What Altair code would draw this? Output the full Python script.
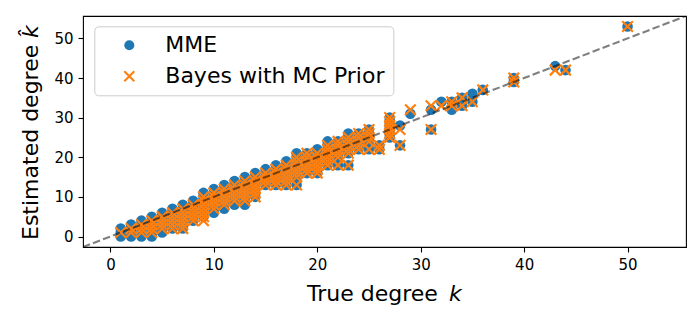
import altair as alt
import pandas as pd

# ---- data ----
true_k = [1, 2, 3, 4, 5, 6, 7, 8, 9, 10, 11, 12, 13, 14, 15, 16, 17, 18, 19, 20,
          21, 22, 23, 24, 25, 26, 27, 28, 29, 31, 32, 33, 34, 35, 36, 39, 43, 44, 50]

mme_est = [
    [0, 1, 2], [0, 1, 2, 3], [0, 1, 2, 3, 4], [0, 1, 2, 3, 4, 5],
    [1, 2, 3, 4, 5, 6], [2, 3, 4, 5, 6, 7], [2, 3, 4, 5, 6, 7, 8],
    [4, 5, 6, 7, 8, 9], [5, 6, 7, 8, 9, 10, 11], [6, 7, 8, 9, 10, 11, 12],
    [7, 8, 9, 10, 11, 12, 13], [8, 9, 10, 11, 12, 13, 14],
    [8, 9, 10, 11, 12, 13, 14, 15], [10, 11, 12, 13, 14, 15, 16],
    [13, 14, 15, 16, 17], [13, 14, 15, 16, 17, 18], [13, 14, 15, 16, 17, 18, 19],
    [13, 15, 16, 17, 18, 19, 20, 21], [16, 17, 18, 19, 20, 21],
    [16, 17, 18, 19, 20, 21, 22], [18, 19, 20, 21, 22, 23, 24],
    [18, 20, 21, 22, 23, 24], [18, 21, 22, 23, 24, 25, 26],
    [22, 23, 24, 25, 26], [22, 23, 24, 25, 26, 27], [22, 23],
    [25, 26, 27, 28, 29, 30], [23, 28], [31], [27, 32], [34], [32, 34],
    [33, 35], [34, 36], [37], [39, 40], [43], [42], [53],
]

bayes_est = [
    [1], [1, 2], [1, 2, 3], [1, 2, 3, 4],
    [2, 3, 4, 5], [2, 3, 4, 5, 6], [2, 3, 4, 5, 6, 7],
    [4, 5, 6, 7, 8], [4, 5, 6, 7, 8, 9, 10], [7, 8, 9, 10, 11],
    [8, 9, 10, 11, 12], [9, 10, 11, 12, 13],
    [9, 10, 11, 12, 13, 14], [10, 11, 12, 13, 14, 15],
    [13, 14, 15, 16], [13, 14, 15, 16, 17], [13, 14, 15, 16, 17, 18],
    [13, 15, 16, 17, 18, 19, 20], [16, 17, 18, 19, 20, 21],
    [16, 17, 18, 19, 20, 21], [18, 19, 20, 21, 22, 23],
    [18, 20, 21, 22, 23, 24], [18, 21, 22, 23, 24, 25],
    [22, 23, 24, 25, 26], [22, 24, 25, 26, 27], [22, 23],
    [25, 26, 27, 28, 29, 30], [23, 27], [32], [27, 33], [33], [33, 34],
    [33, 35], [34], [37], [39, 40], [42], [42], [53],
]

series_names = ["MME", "Bayes with MC Prior"]
series_colors = ["#1f77b4", "#ff7f0e"]
axis_limits = [-2.65, 55.65]
tick_values = [0, 10, 20, 30, 40, 50]

# ---- build table ----
rows = []
for k, ys in zip(true_k, mme_est):
    for y in ys:
        rows.append({"k": k, "est": y, "series": series_names[0]})
for k, ys in zip(true_k, bayes_est):
    for y in ys:
        rows.append({"k": k, "est": y, "series": series_names[1]})
df = pd.DataFrame(rows)
diag = pd.DataFrame({"k": axis_limits, "est": axis_limits})

FONT = "DejaVu Sans"
W, H = 603, 231
x_shape = "M-1,-1L1,1M-1,1L1,-1"

xscale = alt.Scale(domain=axis_limits, nice=False, zero=False)
yscale = alt.Scale(domain=axis_limits, nice=False, zero=False)
xaxis = alt.Axis(values=tick_values, title=None, format="d")
yaxis = alt.Axis(values=tick_values, title=None, format="d")

leg = alt.Legend(title=None)

points = alt.Chart(df).mark_point(size=112, strokeWidth=2.2, opacity=1).encode(
    x=alt.X("k:Q", scale=xscale, axis=xaxis),
    y=alt.Y("est:Q", scale=yscale, axis=yaxis),
    shape=alt.Shape("series:N", scale=alt.Scale(domain=series_names, range=["circle", x_shape]), legend=leg),
    fill=alt.Fill("series:N", scale=alt.Scale(domain=series_names, range=[series_colors[0], "transparent"]), legend=leg),
    stroke=alt.Stroke("series:N", scale=alt.Scale(domain=series_names, range=["transparent", series_colors[1]]), legend=leg),
)

line = alt.Chart(diag).mark_line(
    color="black", opacity=0.5, strokeDash=[7.5, 3.2], strokeWidth=2.1, clip=True
).encode(
    x=alt.X("k:Q", scale=xscale, axis=xaxis),
    y=alt.Y("est:Q", scale=yscale, axis=yaxis),
)

one = pd.DataFrame({"a": [0]})
xt1 = alt.Chart(one).mark_text(font=FONT, fontSize=22, align="left", baseline="alphabetic", color="black").encode(
    x=alt.value(224), y=alt.value(285), text=alt.value("True degree "))
xt2 = alt.Chart(one).mark_text(font=FONT, fontSize=22, fontStyle="italic", align="left", baseline="alphabetic", color="black").encode(
    x=alt.value(366), y=alt.value(285), text=alt.value("k"))
yt1 = alt.Chart(one).mark_text(font=FONT, fontSize=22, align="left", baseline="alphabetic", angle=270, color="black").encode(
    x=alt.value(-45), y=alt.value(224), text=alt.value("Estimated degree "))
yt2 = alt.Chart(one).mark_text(font=FONT, fontSize=22, fontStyle="italic", align="left", baseline="alphabetic", angle=270, color="black").encode(
    x=alt.value(-45), y=alt.value(22), text=alt.value("k\u0302"))

chart = alt.layer(points, line, xt1, xt2, yt1, yt2).resolve_scale(
    x="shared", y="shared"
).properties(
    width=W, height=H,
    autosize=alt.AutoSizeParams(type="none"),
    padding={"left": 75, "top": 8, "right": 5, "bottom": 65},
).configure_view(
    stroke="black", strokeWidth=1.1
).configure_axis(
    domain=False, grid=False, tickColor="black", tickSize=5, tickWidth=1.1,
    labelFont=FONT, labelFontSize=15, labelColor="black", labelPadding=5,
).configure_legend(
    orient="none", legendX=11.3, legendY=10.3, padding=8,
    strokeColor="#cccccc", fillColor="white", cornerRadius=4,
    labelFont=FONT, labelFontSize=22, labelColor="black", labelLimit=0,
    symbolSize=100, symbolStrokeWidth=2, rowPadding=9,
    symbolOffset=16, labelOffset=25,
)

chart.save("out.html", embed_options={"renderer": "svg", "actions": False})
